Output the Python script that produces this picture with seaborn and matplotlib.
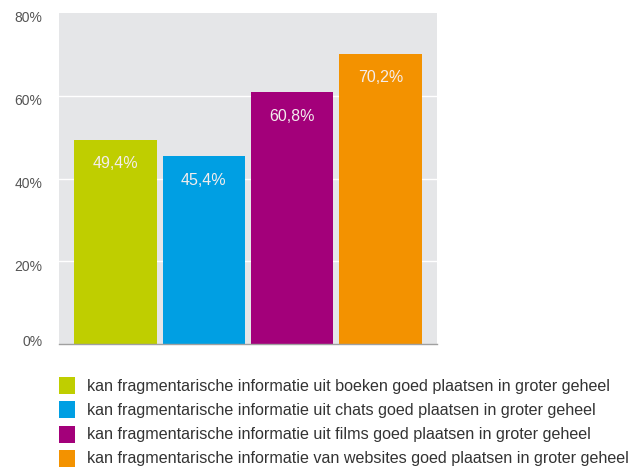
import matplotlib
matplotlib.use("Agg")
import matplotlib.pyplot as plt
from matplotlib.patches import Rectangle
from matplotlib.transforms import ScaledTranslation
import seaborn as sns
import pandas as pd

categories = ["boeken", "chats", "films", "websites"]
values = [49.4, 45.4, 60.8, 70.2]
value_labels = ["49,4%", "45,4%", "60,8%", "70,2%"]
legend_labels = [
    "kan fragmentarische informatie uit boeken goed plaatsen in groter geheel",
    "kan fragmentarische informatie uit chats goed plaatsen in groter geheel",
    "kan fragmentarische informatie uit films goed plaatsen in groter geheel",
    "kan fragmentarische informatie van websites goed plaatsen in groter geheel",
]
colors = ["#BFCE00", "#009FE3", "#A3007A", "#F39200"]
yticks = [0, 20, 40, 60, 80]
ytick_labels = ["0%", "20%", "40%", "60%", "80%"]

sns.set_theme(style="white")
plt.rcParams["font.family"] = ["Liberation Sans", "DejaVu Sans"]

W, H = 632, 467
fig = plt.figure(figsize=(W / 100, H / 100), dpi=100)
ax = fig.add_axes([59 / W, 1 - 344 / H, 378 / W, (344 - 13) / H])

df = pd.DataFrame({"cat": categories, "val": values})
sns.barplot(data=df, x="cat", y="val", hue="cat", palette=colors,
            dodge=False, width=0.93, legend=False, ax=ax, saturation=1,
            linewidth=0, edgecolor="none")

ax.set_facecolor("#E5E6E8")
ax.set_ylim(0, 80)
ax.set_xlim(-0.64, 3.64)
ax.set_yticks(yticks)
ax.set_yticklabels(ytick_labels, color="#555555", fontsize=10)
ax.set_xticks([])
ax.set_xlabel("")
ax.set_ylabel("")
ax.tick_params(axis="y", length=0, pad=12)
for lbl, y in zip(ax.get_yticklabels(), yticks):
    dy = 3 / 72 if y == 0 else -4 / 72
    lbl.set_transform(lbl.get_transform() + ScaledTranslation(0, dy * 0.72, fig.dpi_scale_trans))
for y in yticks[1:-1]:
    ax.axhline(y, color="white", lw=1, zorder=0.5)
ax.set_axisbelow(True)
for s in ["top", "right", "left"]:
    ax.spines[s].set_visible(False)
ax.spines["bottom"].set_color("#A0A0A0")
ax.spines["bottom"].set_linewidth(1)

for i, (v, lab) in enumerate(zip(values, value_labels)):
    ax.annotate(lab, (i, v), xytext=(0, -24), textcoords="offset pixels",
                ha="center", va="center", color="#F3EDED", fontsize=11.5)

# legend
rows_y = [386, 410, 435, 459]
for y, c, lab in zip(rows_y, colors, legend_labels):
    fig.add_artist(Rectangle((59 / W, 1 - (y + 8) / H), 16 / W, 17 / H,
                             transform=fig.transFigure, facecolor=c, edgecolor="none"))
    fig.text(87 / W, 1 - y / H, lab, ha="left", va="center", fontsize=11.6, color="#333333")

fig.savefig("out.png", dpi=100)
